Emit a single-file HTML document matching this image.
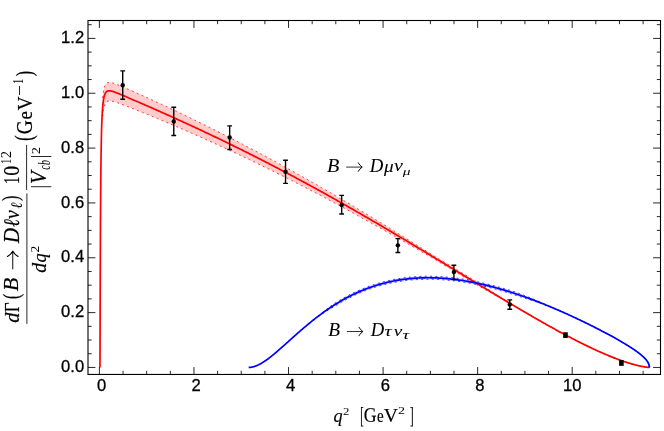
<!DOCTYPE html>
<html><head><meta charset="utf-8"><style>
html,body{margin:0;padding:0;background:#fff;}
body{width:664px;height:431px;overflow:hidden;position:relative;font-family:"Liberation Sans",sans-serif;}
svg{position:absolute;left:0;top:0;will-change:transform;}
.tk{font-family:"Liberation Sans",sans-serif;font-size:16.6px;fill:#000;stroke:#000;stroke-width:0.3px;}
.m{font-family:"Liberation Serif",serif;font-style:italic;fill:#000;stroke:#000;}
.r{font-family:"Liberation Serif",serif;font-style:normal;fill:#000;stroke:#000;}
</style></head><body>
<svg width="664" height="431" viewBox="0 0 664 431">
<path d="M102.62,97.88 L103.99,88.34 L105.36,84.71 L106.73,83.17 L108.10,82.56 L109.47,82.43 L110.84,82.56 L112.21,82.86 L113.58,83.26 L114.95,83.72 L116.32,84.22 L117.69,84.75 L119.06,85.30 L120.43,85.87 L121.80,86.44 L123.17,87.03 L124.54,87.62 L125.91,88.21 L127.28,88.81 L128.65,89.41 L130.02,90.02 L131.39,90.62 L132.76,91.23 L134.13,91.84 L135.50,92.45 L136.87,93.07 L138.25,93.68 L139.62,94.30 L140.99,94.92 L142.36,95.54 L143.73,96.16 L145.10,96.78 L146.47,97.40 L147.84,98.03 L149.21,98.65 L150.58,99.28 L151.95,99.91 L153.32,100.54 L154.69,101.17 L156.06,101.80 L157.43,102.44 L158.80,103.07 L160.17,103.71 L161.54,104.34 L162.91,104.98 L164.28,105.62 L165.65,106.26 L167.02,106.90 L168.39,107.55 L169.76,108.19 L171.13,108.84 L172.51,109.48 L173.88,110.13 L175.25,110.78 L176.62,111.43 L177.99,112.08 L179.36,112.74 L180.73,113.39 L182.10,114.05 L183.47,114.70 L184.84,115.36 L186.21,116.02 L187.58,116.68 L188.95,117.34 L190.32,118.01 L191.69,118.67 L193.06,119.34 L194.43,120.00 L195.80,120.67 L197.17,121.34 L198.54,122.01 L199.91,122.69 L201.28,123.36 L202.65,124.03 L204.02,124.71 L205.39,125.39 L206.76,126.07 L208.14,126.75 L209.51,127.43 L210.88,128.11 L212.25,128.80 L213.62,129.48 L214.99,130.17 L216.36,130.86 L217.73,131.55 L219.10,132.24 L220.47,132.93 L221.84,133.62 L223.21,134.32 L224.58,135.01 L225.95,135.71 L227.32,136.41 L228.69,137.11 L230.06,137.81 L231.43,138.51 L232.80,139.22 L234.17,139.92 L235.54,140.63 L236.91,141.34 L238.28,142.05 L239.65,142.76 L241.02,143.47 L242.40,144.18 L243.77,144.90 L245.14,145.61 L246.51,146.33 L247.88,147.05 L249.25,147.77 L250.62,148.49 L251.99,149.21 L253.36,149.94 L254.73,150.66 L256.10,151.39 L257.47,152.12 L258.84,152.85 L260.21,153.58 L261.58,154.31 L262.95,155.05 L264.32,155.78 L265.69,156.52 L267.06,157.25 L268.43,157.99 L269.80,158.73 L271.17,159.48 L272.54,160.22 L273.91,160.96 L275.28,161.71 L276.66,162.45 L278.03,163.20 L279.40,163.95 L280.77,164.70 L282.14,165.46 L283.51,166.21 L284.88,166.96 L286.25,167.72 L287.62,168.48 L288.99,169.24 L290.36,170.00 L291.73,170.76 L293.10,171.52 L294.47,172.28 L295.84,173.05 L297.21,173.82 L298.58,174.58 L299.95,175.35 L301.32,176.12 L302.69,176.89 L304.06,177.67 L305.43,178.44 L306.80,179.22 L308.17,179.99 L309.54,180.77 L310.91,181.55 L312.29,182.33 L313.66,183.11 L315.03,183.90 L316.40,184.68 L317.77,185.47 L319.14,186.25 L320.51,187.04 L321.88,187.83 L323.25,188.62 L324.62,189.41 L325.99,190.20 L327.36,191.00 L328.73,191.79 L330.10,192.59 L331.47,193.39 L332.84,194.19 L334.21,194.99 L335.58,195.79 L336.95,196.59 L338.32,197.39 L339.69,198.20 L341.06,199.00 L342.43,199.81 L343.80,200.62 L345.17,201.43 L346.55,202.24 L347.92,203.05 L349.29,203.86 L350.66,204.68 L352.03,205.49 L353.40,206.31 L354.77,207.12 L356.14,207.94 L357.51,208.76 L358.88,209.58 L360.25,210.40 L361.62,211.22 L362.99,212.05 L364.36,212.87 L365.73,213.70 L367.10,214.52 L368.47,215.35 L369.84,216.18 L371.21,217.01 L372.58,217.84 L373.95,218.67 L375.32,219.50 L376.69,220.34 L378.06,221.17 L379.43,222.01 L380.81,222.84 L382.18,223.68 L383.55,224.52 L384.92,225.35 L386.29,226.19 L387.66,227.03 L389.03,227.88 L390.40,228.72 L391.77,229.56 L393.14,230.41 L394.51,231.25 L395.88,232.10 L397.25,232.94 L398.62,233.79 L399.99,234.64 L401.36,235.49 L402.73,236.34 L404.10,237.19 L405.47,238.04 L406.84,238.89 L408.21,239.74 L409.58,240.59 L410.95,241.45 L412.32,242.30 L413.69,243.16 L415.06,244.01 L416.44,244.87 L417.81,245.72 L419.18,246.58 L420.55,247.44 L421.92,248.30 L423.29,249.16 L424.66,250.02 L426.03,250.88 L427.40,251.74 L428.77,252.60 L430.14,253.46 L431.51,254.32 L432.88,255.18 L434.25,256.04 L435.62,256.87 L436.99,257.70 L438.36,258.53 L439.73,259.37 L441.10,260.20 L442.47,261.03 L443.84,261.86 L445.21,262.69 L446.58,263.53 L447.95,264.36 L449.32,265.19 L450.70,266.03 L452.07,266.86 L453.44,267.69 L454.81,268.53 L456.18,269.36 L457.55,270.19 L458.92,271.03 L460.29,271.86 L461.66,272.70 L463.03,273.53 L464.40,274.36 L465.77,275.20 L467.14,276.03 L468.51,276.86 L469.88,277.70 L471.25,278.53 L472.62,279.36 L473.99,280.19 L475.36,281.03 L476.73,281.86 L478.10,282.71 L479.47,283.61 L480.84,284.50 L482.21,285.39 L483.58,286.28 L484.96,287.18 L486.33,288.07 L487.70,288.96 L489.07,289.85 L490.44,290.74 L491.81,291.63 L493.18,292.52 L494.55,293.40 L495.92,294.29 L497.29,295.18 L498.66,296.06 L500.03,296.95 L501.40,297.83 L502.77,298.71 L504.14,299.60 L505.51,300.48 L506.88,301.36 L508.25,302.24 L509.62,303.11 L510.99,303.98 L512.36,304.79 L513.73,305.61 L515.10,306.42 L516.47,307.23 L517.84,308.04 L519.21,308.84 L520.59,309.65 L521.96,310.45 L523.33,311.26 L524.70,312.06 L526.07,312.86 L527.44,313.66 L528.81,314.45 L530.18,315.25 L531.55,316.04 L532.92,316.83 L534.29,317.62 L535.66,318.41 L537.03,319.19 L538.40,319.98 L539.77,320.76 L541.14,321.54 L542.51,322.31 L543.88,323.09 L545.25,323.86 L546.62,324.63 L547.99,325.40 L549.36,326.16 L550.73,326.93 L552.10,327.69 L553.47,328.44 L554.85,329.20 L556.22,329.95 L557.59,330.70 L558.96,331.44 L560.33,332.18 L561.70,332.92 L563.07,333.66 L564.44,334.39 L565.81,335.12 L567.18,335.85 L568.55,336.57 L569.92,337.29 L571.29,338.00 L572.66,338.72 L574.03,339.42 L575.40,340.13 L576.77,340.83 L578.14,341.52 L579.51,342.21 L580.88,342.90 L582.25,343.58 L583.62,344.26 L584.99,344.93 L586.36,345.60 L587.73,346.26 L589.10,346.92 L590.48,347.57 L591.85,348.22 L593.22,348.86 L594.59,349.50 L595.96,350.13 L597.33,350.75 L598.70,351.37 L600.07,351.98 L601.44,352.59 L602.81,353.19 L604.18,353.78 L605.55,354.37 L606.92,354.95 L608.29,355.52 L609.66,356.08 L611.03,356.64 L612.40,357.19 L613.77,357.73 L615.14,358.26 L616.51,358.78 L617.88,359.30 L619.25,359.80 L620.62,360.30 L621.99,360.78 L623.36,361.26 L624.74,361.72 L626.11,362.17 L627.48,362.62 L628.85,363.05 L630.22,363.46 L631.59,363.87 L632.96,364.26 L634.33,364.64 L635.70,365.00 L637.07,365.34 L638.44,365.67 L639.81,365.98 L641.18,366.27 L642.55,366.54 L643.92,366.78 L645.29,367.00 L646.66,367.19 L648.03,367.34 L649.40,367.45 L649.40,367.45 L648.03,367.34 L646.66,367.19 L645.29,367.00 L643.92,366.78 L642.55,366.54 L641.18,366.27 L639.81,365.98 L638.44,365.67 L637.07,365.34 L635.70,365.00 L634.33,364.64 L632.96,364.26 L631.59,363.87 L630.22,363.46 L628.85,363.05 L627.48,362.62 L626.11,362.17 L624.74,361.72 L623.36,361.26 L621.99,360.78 L620.62,360.30 L619.25,359.80 L617.88,359.30 L616.51,358.78 L615.14,358.26 L613.77,357.73 L612.40,357.19 L611.03,356.64 L609.66,356.08 L608.29,355.52 L606.92,354.95 L605.55,354.37 L604.18,353.78 L602.81,353.19 L601.44,352.59 L600.07,351.98 L598.70,351.37 L597.33,350.75 L595.96,350.13 L594.59,349.50 L593.22,348.86 L591.85,348.22 L590.48,347.57 L589.10,346.92 L587.73,346.26 L586.36,345.60 L584.99,344.93 L583.62,344.26 L582.25,343.58 L580.88,342.90 L579.51,342.21 L578.14,341.52 L576.77,340.83 L575.40,340.13 L574.03,339.42 L572.66,338.72 L571.29,338.00 L569.92,337.29 L568.55,336.57 L567.18,335.85 L565.81,335.12 L564.44,334.39 L563.07,333.66 L561.70,332.92 L560.33,332.18 L558.96,331.44 L557.59,330.70 L556.22,329.95 L554.85,329.20 L553.47,328.44 L552.10,327.69 L550.73,326.93 L549.36,326.16 L547.99,325.40 L546.62,324.63 L545.25,323.86 L543.88,323.09 L542.51,322.31 L541.14,321.54 L539.77,320.76 L538.40,319.98 L537.03,319.19 L535.66,318.41 L534.29,317.62 L532.92,316.83 L531.55,316.04 L530.18,315.25 L528.81,314.45 L527.44,313.66 L526.07,312.86 L524.70,312.06 L523.33,311.26 L521.96,310.45 L520.59,309.65 L519.21,308.84 L517.84,308.04 L516.47,307.23 L515.10,306.42 L513.73,305.61 L512.36,304.79 L510.99,303.98 L509.62,303.22 L508.25,302.46 L506.88,301.71 L505.51,300.95 L504.14,300.19 L502.77,299.44 L501.40,298.68 L500.03,297.92 L498.66,297.16 L497.29,296.40 L495.92,295.63 L494.55,294.87 L493.18,294.11 L491.81,293.34 L490.44,292.58 L489.07,291.81 L487.70,291.05 L486.33,290.28 L484.96,289.51 L483.58,288.75 L482.21,287.98 L480.84,287.21 L479.47,286.44 L478.10,285.67 L476.73,284.86 L475.36,284.03 L473.99,283.19 L472.62,282.36 L471.25,281.53 L469.88,280.70 L468.51,279.86 L467.14,279.03 L465.77,278.20 L464.40,277.36 L463.03,276.53 L461.66,275.70 L460.29,274.86 L458.92,274.03 L457.55,273.19 L456.18,272.36 L454.81,271.53 L453.44,270.69 L452.07,269.86 L450.70,269.03 L449.32,268.19 L447.95,267.36 L446.58,266.53 L445.21,265.69 L443.84,264.86 L442.47,264.03 L441.10,263.20 L439.73,262.37 L438.36,261.53 L436.99,260.70 L435.62,259.87 L434.25,259.04 L432.88,258.24 L431.51,257.45 L430.14,256.65 L428.77,255.85 L427.40,255.06 L426.03,254.26 L424.66,253.47 L423.29,252.67 L421.92,251.88 L420.55,251.09 L419.18,250.29 L417.81,249.50 L416.44,248.71 L415.06,247.92 L413.69,247.13 L412.32,246.34 L410.95,245.55 L409.58,244.76 L408.21,243.97 L406.84,243.19 L405.47,242.40 L404.10,241.61 L402.73,240.83 L401.36,240.05 L399.99,239.26 L398.62,238.48 L397.25,237.70 L395.88,236.92 L394.51,236.14 L393.14,235.36 L391.77,234.58 L390.40,233.80 L389.03,233.02 L387.66,232.25 L386.29,231.47 L384.92,230.70 L383.55,229.92 L382.18,229.15 L380.81,228.38 L379.43,227.61 L378.06,226.84 L376.69,226.07 L375.32,225.30 L373.95,224.53 L372.58,223.77 L371.21,223.00 L369.84,222.24 L368.47,221.47 L367.10,220.71 L365.73,219.95 L364.36,219.19 L362.99,218.43 L361.62,217.67 L360.25,216.92 L358.88,216.16 L357.51,215.41 L356.14,214.65 L354.77,213.90 L353.40,213.15 L352.03,212.40 L350.66,211.65 L349.29,210.90 L347.92,210.15 L346.55,209.40 L345.17,208.66 L343.80,207.92 L342.43,207.17 L341.06,206.43 L339.69,205.69 L338.32,204.95 L336.95,204.21 L335.58,203.47 L334.21,202.74 L332.84,202.00 L331.47,201.27 L330.10,200.54 L328.73,199.81 L327.36,199.08 L325.99,198.35 L324.62,197.62 L323.25,196.89 L321.88,196.17 L320.51,195.44 L319.14,194.72 L317.77,194.00 L316.40,193.28 L315.03,192.56 L313.66,191.84 L312.29,191.13 L310.91,190.41 L309.54,189.70 L308.17,188.98 L306.80,188.27 L305.43,187.56 L304.06,186.85 L302.69,186.15 L301.32,185.44 L299.95,184.73 L298.58,184.03 L297.21,183.33 L295.84,182.63 L294.47,181.93 L293.10,181.23 L291.73,180.53 L290.36,179.83 L288.99,179.14 L287.62,178.45 L286.25,177.75 L284.88,177.06 L283.51,176.37 L282.14,175.69 L280.77,175.00 L279.40,174.31 L278.03,173.63 L276.66,172.95 L275.28,172.26 L273.91,171.58 L272.54,170.90 L271.17,170.23 L269.80,169.55 L268.43,168.87 L267.06,168.20 L265.69,167.53 L264.32,166.86 L262.95,166.19 L261.58,165.52 L260.21,164.85 L258.84,164.19 L257.47,163.52 L256.10,162.86 L254.73,162.20 L253.36,161.54 L251.99,160.88 L250.62,160.22 L249.25,159.56 L247.88,158.91 L246.51,158.26 L245.14,157.60 L243.77,156.95 L242.40,156.30 L241.02,155.65 L239.65,155.01 L238.28,154.36 L236.91,153.72 L235.54,153.07 L234.17,152.43 L232.80,151.79 L231.43,151.15 L230.06,150.52 L228.69,149.88 L227.32,149.24 L225.95,148.61 L224.58,147.98 L223.21,147.35 L221.84,146.72 L220.47,146.09 L219.10,145.46 L217.73,144.84 L216.36,144.21 L214.99,143.59 L213.62,142.97 L212.25,142.35 L210.88,141.73 L209.51,141.11 L208.14,140.50 L206.76,139.88 L205.39,139.27 L204.02,138.65 L202.65,138.04 L201.28,137.43 L199.91,136.83 L198.54,136.22 L197.17,135.61 L195.80,135.01 L194.43,134.40 L193.06,133.80 L191.69,133.20 L190.32,132.60 L188.95,132.00 L187.58,131.41 L186.21,130.81 L184.84,130.22 L183.47,129.63 L182.10,129.03 L180.73,128.44 L179.36,127.85 L177.99,127.27 L176.62,126.68 L175.25,126.09 L173.88,125.51 L172.51,124.93 L171.13,124.35 L169.76,123.76 L168.39,123.19 L167.02,122.61 L165.65,122.03 L164.28,121.46 L162.91,120.88 L161.54,120.31 L160.17,119.74 L158.80,119.17 L157.43,118.60 L156.06,118.03 L154.69,117.46 L153.32,116.90 L151.95,116.33 L150.58,115.77 L149.21,115.21 L147.84,114.65 L146.47,114.09 L145.10,113.53 L143.73,112.97 L142.36,112.41 L140.99,111.86 L139.62,111.31 L138.25,110.76 L136.87,110.20 L135.50,109.66 L134.13,109.11 L132.76,108.56 L131.39,108.02 L130.02,107.48 L128.65,106.94 L127.28,106.40 L125.91,105.87 L124.54,105.34 L123.17,104.82 L121.80,104.30 L120.43,103.79 L119.06,103.29 L117.69,102.80 L116.32,102.34 L114.95,101.90 L113.58,101.50 L112.21,101.17 L110.84,100.94 L109.47,100.87 L108.10,101.06 L106.73,101.74 L105.36,103.35 L103.99,107.05 L102.62,116.62Z" fill="#ffcccc" stroke="none"/>
<path d="M102.62,97.88 L103.99,88.34 L105.36,84.71 L106.73,83.17 L108.10,82.56 L109.47,82.43 L110.84,82.56 L112.21,82.86 L113.58,83.26 L114.95,83.72 L116.32,84.22 L117.69,84.75 L119.06,85.30 L120.43,85.87 L121.80,86.44 L123.17,87.03 L124.54,87.62 L125.91,88.21 L127.28,88.81 L128.65,89.41 L130.02,90.02 L131.39,90.62 L132.76,91.23 L134.13,91.84 L135.50,92.45 L136.87,93.07 L138.25,93.68 L139.62,94.30 L140.99,94.92 L142.36,95.54 L143.73,96.16 L145.10,96.78 L146.47,97.40 L147.84,98.03 L149.21,98.65 L150.58,99.28 L151.95,99.91 L153.32,100.54 L154.69,101.17 L156.06,101.80 L157.43,102.44 L158.80,103.07 L160.17,103.71 L161.54,104.34 L162.91,104.98 L164.28,105.62 L165.65,106.26 L167.02,106.90 L168.39,107.55 L169.76,108.19 L171.13,108.84 L172.51,109.48 L173.88,110.13 L175.25,110.78 L176.62,111.43 L177.99,112.08 L179.36,112.74 L180.73,113.39 L182.10,114.05 L183.47,114.70 L184.84,115.36 L186.21,116.02 L187.58,116.68 L188.95,117.34 L190.32,118.01 L191.69,118.67 L193.06,119.34 L194.43,120.00 L195.80,120.67 L197.17,121.34 L198.54,122.01 L199.91,122.69 L201.28,123.36 L202.65,124.03 L204.02,124.71 L205.39,125.39 L206.76,126.07 L208.14,126.75 L209.51,127.43 L210.88,128.11 L212.25,128.80 L213.62,129.48 L214.99,130.17 L216.36,130.86 L217.73,131.55 L219.10,132.24 L220.47,132.93 L221.84,133.62 L223.21,134.32 L224.58,135.01 L225.95,135.71 L227.32,136.41 L228.69,137.11 L230.06,137.81 L231.43,138.51 L232.80,139.22 L234.17,139.92 L235.54,140.63 L236.91,141.34 L238.28,142.05 L239.65,142.76 L241.02,143.47 L242.40,144.18 L243.77,144.90 L245.14,145.61 L246.51,146.33 L247.88,147.05 L249.25,147.77 L250.62,148.49 L251.99,149.21 L253.36,149.94 L254.73,150.66 L256.10,151.39 L257.47,152.12 L258.84,152.85 L260.21,153.58 L261.58,154.31 L262.95,155.05 L264.32,155.78 L265.69,156.52 L267.06,157.25 L268.43,157.99 L269.80,158.73 L271.17,159.48 L272.54,160.22 L273.91,160.96 L275.28,161.71 L276.66,162.45 L278.03,163.20 L279.40,163.95 L280.77,164.70 L282.14,165.46 L283.51,166.21 L284.88,166.96 L286.25,167.72 L287.62,168.48 L288.99,169.24 L290.36,170.00 L291.73,170.76 L293.10,171.52 L294.47,172.28 L295.84,173.05 L297.21,173.82 L298.58,174.58 L299.95,175.35 L301.32,176.12 L302.69,176.89 L304.06,177.67 L305.43,178.44 L306.80,179.22 L308.17,179.99 L309.54,180.77 L310.91,181.55 L312.29,182.33 L313.66,183.11 L315.03,183.90 L316.40,184.68 L317.77,185.47 L319.14,186.25 L320.51,187.04 L321.88,187.83 L323.25,188.62 L324.62,189.41 L325.99,190.20 L327.36,191.00 L328.73,191.79 L330.10,192.59 L331.47,193.39 L332.84,194.19 L334.21,194.99 L335.58,195.79 L336.95,196.59 L338.32,197.39 L339.69,198.20 L341.06,199.00 L342.43,199.81 L343.80,200.62 L345.17,201.43 L346.55,202.24 L347.92,203.05 L349.29,203.86 L350.66,204.68 L352.03,205.49 L353.40,206.31 L354.77,207.12 L356.14,207.94 L357.51,208.76 L358.88,209.58 L360.25,210.40 L361.62,211.22 L362.99,212.05 L364.36,212.87 L365.73,213.70 L367.10,214.52 L368.47,215.35 L369.84,216.18 L371.21,217.01 L372.58,217.84 L373.95,218.67 L375.32,219.50 L376.69,220.34 L378.06,221.17 L379.43,222.01 L380.81,222.84 L382.18,223.68 L383.55,224.52 L384.92,225.35 L386.29,226.19 L387.66,227.03 L389.03,227.88 L390.40,228.72 L391.77,229.56 L393.14,230.41 L394.51,231.25 L395.88,232.10 L397.25,232.94 L398.62,233.79 L399.99,234.64 L401.36,235.49 L402.73,236.34 L404.10,237.19 L405.47,238.04 L406.84,238.89 L408.21,239.74 L409.58,240.59 L410.95,241.45 L412.32,242.30 L413.69,243.16 L415.06,244.01 L416.44,244.87 L417.81,245.72 L419.18,246.58 L420.55,247.44 L421.92,248.30 L423.29,249.16 L424.66,250.02 L426.03,250.88 L427.40,251.74 L428.77,252.60 L430.14,253.46 L431.51,254.32 L432.88,255.18 L434.25,256.04 L435.62,256.87 L436.99,257.70 L438.36,258.53 L439.73,259.37 L441.10,260.20 L442.47,261.03 L443.84,261.86 L445.21,262.69 L446.58,263.53 L447.95,264.36 L449.32,265.19 L450.70,266.03 L452.07,266.86 L453.44,267.69 L454.81,268.53 L456.18,269.36 L457.55,270.19 L458.92,271.03 L460.29,271.86 L461.66,272.70 L463.03,273.53 L464.40,274.36 L465.77,275.20 L467.14,276.03 L468.51,276.86 L469.88,277.70 L471.25,278.53 L472.62,279.36 L473.99,280.19 L475.36,281.03 L476.73,281.86 L478.10,282.71 L479.47,283.61 L480.84,284.50 L482.21,285.39 L483.58,286.28 L484.96,287.18 L486.33,288.07 L487.70,288.96 L489.07,289.85 L490.44,290.74 L491.81,291.63 L493.18,292.52 L494.55,293.40 L495.92,294.29 L497.29,295.18 L498.66,296.06 L500.03,296.95 L501.40,297.83 L502.77,298.71 L504.14,299.60 L505.51,300.48 L506.88,301.36 L508.25,302.24 L509.62,303.11 L510.99,303.98 L512.36,304.79 L513.73,305.61 L515.10,306.42 L516.47,307.23 L517.84,308.04 L519.21,308.84 L520.59,309.65 L521.96,310.45 L523.33,311.26 L524.70,312.06 L526.07,312.86 L527.44,313.66 L528.81,314.45 L530.18,315.25 L531.55,316.04 L532.92,316.83 L534.29,317.62 L535.66,318.41 L537.03,319.19 L538.40,319.98 L539.77,320.76 L541.14,321.54 L542.51,322.31 L543.88,323.09 L545.25,323.86 L546.62,324.63 L547.99,325.40 L549.36,326.16 L550.73,326.93 L552.10,327.69 L553.47,328.44 L554.85,329.20 L556.22,329.95 L557.59,330.70 L558.96,331.44 L560.33,332.18 L561.70,332.92 L563.07,333.66 L564.44,334.39 L565.81,335.12 L567.18,335.85 L568.55,336.57 L569.92,337.29 L571.29,338.00 L572.66,338.72 L574.03,339.42 L575.40,340.13 L576.77,340.83 L578.14,341.52 L579.51,342.21 L580.88,342.90 L582.25,343.58 L583.62,344.26 L584.99,344.93 L586.36,345.60 L587.73,346.26 L589.10,346.92 L590.48,347.57 L591.85,348.22 L593.22,348.86 L594.59,349.50 L595.96,350.13 L597.33,350.75 L598.70,351.37 L600.07,351.98 L601.44,352.59 L602.81,353.19 L604.18,353.78 L605.55,354.37 L606.92,354.95 L608.29,355.52 L609.66,356.08 L611.03,356.64 L612.40,357.19 L613.77,357.73 L615.14,358.26 L616.51,358.78 L617.88,359.30 L619.25,359.80 L620.62,360.30 L621.99,360.78 L623.36,361.26 L624.74,361.72 L626.11,362.17 L627.48,362.62 L628.85,363.05 L630.22,363.46 L631.59,363.87 L632.96,364.26 L634.33,364.64 L635.70,365.00 L637.07,365.34 L638.44,365.67 L639.81,365.98 L641.18,366.27 L642.55,366.54 L643.92,366.78 L645.29,367.00 L646.66,367.19 L648.03,367.34 L649.40,367.45" fill="none" stroke="#ff2020" stroke-width="0.9" stroke-dasharray="2,3.3"/>
<path d="M102.62,116.62 L103.99,107.05 L105.36,103.35 L106.73,101.74 L108.10,101.06 L109.47,100.87 L110.84,100.94 L112.21,101.17 L113.58,101.50 L114.95,101.90 L116.32,102.34 L117.69,102.80 L119.06,103.29 L120.43,103.79 L121.80,104.30 L123.17,104.82 L124.54,105.34 L125.91,105.87 L127.28,106.40 L128.65,106.94 L130.02,107.48 L131.39,108.02 L132.76,108.56 L134.13,109.11 L135.50,109.66 L136.87,110.20 L138.25,110.76 L139.62,111.31 L140.99,111.86 L142.36,112.41 L143.73,112.97 L145.10,113.53 L146.47,114.09 L147.84,114.65 L149.21,115.21 L150.58,115.77 L151.95,116.33 L153.32,116.90 L154.69,117.46 L156.06,118.03 L157.43,118.60 L158.80,119.17 L160.17,119.74 L161.54,120.31 L162.91,120.88 L164.28,121.46 L165.65,122.03 L167.02,122.61 L168.39,123.19 L169.76,123.76 L171.13,124.35 L172.51,124.93 L173.88,125.51 L175.25,126.09 L176.62,126.68 L177.99,127.27 L179.36,127.85 L180.73,128.44 L182.10,129.03 L183.47,129.63 L184.84,130.22 L186.21,130.81 L187.58,131.41 L188.95,132.00 L190.32,132.60 L191.69,133.20 L193.06,133.80 L194.43,134.40 L195.80,135.01 L197.17,135.61 L198.54,136.22 L199.91,136.83 L201.28,137.43 L202.65,138.04 L204.02,138.65 L205.39,139.27 L206.76,139.88 L208.14,140.50 L209.51,141.11 L210.88,141.73 L212.25,142.35 L213.62,142.97 L214.99,143.59 L216.36,144.21 L217.73,144.84 L219.10,145.46 L220.47,146.09 L221.84,146.72 L223.21,147.35 L224.58,147.98 L225.95,148.61 L227.32,149.24 L228.69,149.88 L230.06,150.52 L231.43,151.15 L232.80,151.79 L234.17,152.43 L235.54,153.07 L236.91,153.72 L238.28,154.36 L239.65,155.01 L241.02,155.65 L242.40,156.30 L243.77,156.95 L245.14,157.60 L246.51,158.26 L247.88,158.91 L249.25,159.56 L250.62,160.22 L251.99,160.88 L253.36,161.54 L254.73,162.20 L256.10,162.86 L257.47,163.52 L258.84,164.19 L260.21,164.85 L261.58,165.52 L262.95,166.19 L264.32,166.86 L265.69,167.53 L267.06,168.20 L268.43,168.87 L269.80,169.55 L271.17,170.23 L272.54,170.90 L273.91,171.58 L275.28,172.26 L276.66,172.95 L278.03,173.63 L279.40,174.31 L280.77,175.00 L282.14,175.69 L283.51,176.37 L284.88,177.06 L286.25,177.75 L287.62,178.45 L288.99,179.14 L290.36,179.83 L291.73,180.53 L293.10,181.23 L294.47,181.93 L295.84,182.63 L297.21,183.33 L298.58,184.03 L299.95,184.73 L301.32,185.44 L302.69,186.15 L304.06,186.85 L305.43,187.56 L306.80,188.27 L308.17,188.98 L309.54,189.70 L310.91,190.41 L312.29,191.13 L313.66,191.84 L315.03,192.56 L316.40,193.28 L317.77,194.00 L319.14,194.72 L320.51,195.44 L321.88,196.17 L323.25,196.89 L324.62,197.62 L325.99,198.35 L327.36,199.08 L328.73,199.81 L330.10,200.54 L331.47,201.27 L332.84,202.00 L334.21,202.74 L335.58,203.47 L336.95,204.21 L338.32,204.95 L339.69,205.69 L341.06,206.43 L342.43,207.17 L343.80,207.92 L345.17,208.66 L346.55,209.40 L347.92,210.15 L349.29,210.90 L350.66,211.65 L352.03,212.40 L353.40,213.15 L354.77,213.90 L356.14,214.65 L357.51,215.41 L358.88,216.16 L360.25,216.92 L361.62,217.67 L362.99,218.43 L364.36,219.19 L365.73,219.95 L367.10,220.71 L368.47,221.47 L369.84,222.24 L371.21,223.00 L372.58,223.77 L373.95,224.53 L375.32,225.30 L376.69,226.07 L378.06,226.84 L379.43,227.61 L380.81,228.38 L382.18,229.15 L383.55,229.92 L384.92,230.70 L386.29,231.47 L387.66,232.25 L389.03,233.02 L390.40,233.80 L391.77,234.58 L393.14,235.36 L394.51,236.14 L395.88,236.92 L397.25,237.70 L398.62,238.48 L399.99,239.26 L401.36,240.05 L402.73,240.83 L404.10,241.61 L405.47,242.40 L406.84,243.19 L408.21,243.97 L409.58,244.76 L410.95,245.55 L412.32,246.34 L413.69,247.13 L415.06,247.92 L416.44,248.71 L417.81,249.50 L419.18,250.29 L420.55,251.09 L421.92,251.88 L423.29,252.67 L424.66,253.47 L426.03,254.26 L427.40,255.06 L428.77,255.85 L430.14,256.65 L431.51,257.45 L432.88,258.24 L434.25,259.04 L435.62,259.87 L436.99,260.70 L438.36,261.53 L439.73,262.37 L441.10,263.20 L442.47,264.03 L443.84,264.86 L445.21,265.69 L446.58,266.53 L447.95,267.36 L449.32,268.19 L450.70,269.03 L452.07,269.86 L453.44,270.69 L454.81,271.53 L456.18,272.36 L457.55,273.19 L458.92,274.03 L460.29,274.86 L461.66,275.70 L463.03,276.53 L464.40,277.36 L465.77,278.20 L467.14,279.03 L468.51,279.86 L469.88,280.70 L471.25,281.53 L472.62,282.36 L473.99,283.19 L475.36,284.03 L476.73,284.86 L478.10,285.67 L479.47,286.44 L480.84,287.21 L482.21,287.98 L483.58,288.75 L484.96,289.51 L486.33,290.28 L487.70,291.05 L489.07,291.81 L490.44,292.58 L491.81,293.34 L493.18,294.11 L494.55,294.87 L495.92,295.63 L497.29,296.40 L498.66,297.16 L500.03,297.92 L501.40,298.68 L502.77,299.44 L504.14,300.19 L505.51,300.95 L506.88,301.71 L508.25,302.46 L509.62,303.22 L510.99,303.98 L512.36,304.79 L513.73,305.61 L515.10,306.42 L516.47,307.23 L517.84,308.04 L519.21,308.84 L520.59,309.65 L521.96,310.45 L523.33,311.26 L524.70,312.06 L526.07,312.86 L527.44,313.66 L528.81,314.45 L530.18,315.25 L531.55,316.04 L532.92,316.83 L534.29,317.62 L535.66,318.41 L537.03,319.19 L538.40,319.98 L539.77,320.76 L541.14,321.54 L542.51,322.31 L543.88,323.09 L545.25,323.86 L546.62,324.63 L547.99,325.40 L549.36,326.16 L550.73,326.93 L552.10,327.69 L553.47,328.44 L554.85,329.20 L556.22,329.95 L557.59,330.70 L558.96,331.44 L560.33,332.18 L561.70,332.92 L563.07,333.66 L564.44,334.39 L565.81,335.12 L567.18,335.85 L568.55,336.57 L569.92,337.29 L571.29,338.00 L572.66,338.72 L574.03,339.42 L575.40,340.13 L576.77,340.83 L578.14,341.52 L579.51,342.21 L580.88,342.90 L582.25,343.58 L583.62,344.26 L584.99,344.93 L586.36,345.60 L587.73,346.26 L589.10,346.92 L590.48,347.57 L591.85,348.22 L593.22,348.86 L594.59,349.50 L595.96,350.13 L597.33,350.75 L598.70,351.37 L600.07,351.98 L601.44,352.59 L602.81,353.19 L604.18,353.78 L605.55,354.37 L606.92,354.95 L608.29,355.52 L609.66,356.08 L611.03,356.64 L612.40,357.19 L613.77,357.73 L615.14,358.26 L616.51,358.78 L617.88,359.30 L619.25,359.80 L620.62,360.30 L621.99,360.78 L623.36,361.26 L624.74,361.72 L626.11,362.17 L627.48,362.62 L628.85,363.05 L630.22,363.46 L631.59,363.87 L632.96,364.26 L634.33,364.64 L635.70,365.00 L637.07,365.34 L638.44,365.67 L639.81,365.98 L641.18,366.27 L642.55,366.54 L643.92,366.78 L645.29,367.00 L646.66,367.19 L648.03,367.34 L649.40,367.45" fill="none" stroke="#ff2020" stroke-width="0.9" stroke-dasharray="2,3.3"/>
<path d="M265.22,360.83 L266.51,359.93 L267.79,359.00 L269.08,358.04 L270.36,357.05 L271.65,356.03 L272.93,354.99 L274.22,353.94 L275.50,352.86 L276.79,351.77 L278.07,350.66 L279.36,349.55 L280.64,348.42 L281.93,347.29 L283.21,346.15 L284.50,345.00 L285.78,343.85 L287.06,342.70 L288.35,341.54 L289.63,340.39 L290.92,339.23 L292.20,338.08 L293.49,336.93 L294.77,335.79 L296.06,334.65 L297.34,333.51 L298.63,332.38 L299.91,331.26 L301.20,330.14 L302.48,329.03 L303.77,327.93 L305.05,326.84 L306.34,325.76 L307.62,324.68 L308.91,323.62 L310.19,322.57 L311.48,321.53 L312.76,320.46 L314.05,319.36 L315.33,318.27 L316.62,317.19 L317.90,316.12 L319.19,315.07 L320.47,314.03 L321.76,313.00 L323.04,311.98 L324.33,310.98 L325.61,309.98 L326.90,309.01 L328.18,308.04 L329.47,307.09 L330.75,306.15 L332.04,305.22 L333.32,304.31 L334.61,303.41 L335.89,302.53 L337.18,301.74 L338.46,300.96 L339.75,300.20 L341.03,299.44 L342.31,298.71 L343.60,297.98 L344.88,297.27 L346.17,296.57 L347.45,295.89 L348.74,295.21 L350.02,294.55 L351.31,293.91 L352.59,293.28 L353.88,292.66 L355.16,292.05 L356.45,291.46 L357.73,290.87 L359.02,290.30 L360.30,289.75 L361.59,289.21 L362.87,288.67 L364.16,288.16 L365.44,287.65 L366.73,287.16 L368.01,286.67 L369.30,286.20 L370.58,285.75 L371.87,285.30 L373.15,284.87 L374.44,284.45 L375.72,284.04 L377.01,283.64 L378.29,283.25 L379.58,282.87 L380.86,282.51 L382.15,282.16 L383.43,281.82 L384.72,281.49 L386.00,281.17 L387.29,280.86 L388.57,280.56 L389.86,280.27 L391.14,280.00 L392.43,279.73 L393.71,279.48 L395.00,279.23 L396.28,279.00 L397.56,278.77 L398.85,278.56 L400.13,278.36 L401.42,278.16 L402.70,277.98 L403.99,277.80 L405.27,277.64 L406.56,277.49 L407.84,277.34 L409.13,277.21 L410.41,277.08 L411.70,276.96 L412.98,276.86 L414.27,276.76 L415.55,276.67 L416.84,276.59 L418.12,276.52 L419.41,276.46 L420.69,276.40 L421.98,276.36 L423.26,276.32 L424.55,276.29 L425.83,276.28 L427.12,276.27 L428.40,276.26 L429.69,276.27 L430.97,276.28 L432.26,276.31 L433.54,276.34 L434.83,276.38 L436.11,276.42 L437.40,276.48 L438.68,276.54 L439.97,276.61 L441.25,276.69 L442.54,276.77 L443.82,276.87 L445.11,276.97 L446.39,277.07 L447.68,277.19 L448.96,277.31 L450.25,277.44 L451.53,277.58 L452.82,277.72 L454.10,277.87 L455.38,278.03 L456.67,278.19 L457.95,278.36 L459.24,278.54 L460.52,278.73 L461.81,278.92 L463.09,279.12 L464.38,279.32 L465.66,279.53 L466.95,279.75 L468.23,279.97 L469.52,280.21 L470.80,280.44 L472.09,280.68 L473.37,280.93 L474.66,281.19 L475.94,281.45 L477.23,281.72 L478.51,281.99 L479.80,282.27 L481.08,282.55 L482.37,282.84 L483.65,283.14 L484.94,283.44 L486.22,283.75 L487.51,284.06 L488.79,284.38 L490.08,284.71 L491.36,285.04 L492.65,285.37 L493.93,285.71 L495.22,286.06 L496.50,286.41 L497.79,286.76 L499.07,287.13 L500.36,287.49 L501.64,287.86 L502.93,288.24 L504.21,288.62 L505.50,289.01 L506.78,289.40 L508.07,289.80 L509.35,290.20 L510.63,290.60 L511.92,291.01 L513.20,291.43 L514.49,291.85 L515.77,292.27 L517.06,292.70 L518.34,293.14 L519.63,293.57 L520.91,294.05 L522.20,294.55 L523.48,295.06 L524.77,295.58 L526.05,296.10 L527.34,296.62 L528.62,297.15 L529.91,297.68 L531.19,298.21 L532.48,298.75 L533.76,299.29 L535.05,299.84 L536.33,300.39 L537.62,300.95 L538.90,301.51 L540.19,302.07 L541.47,302.64 L542.76,303.21 L544.04,303.78 L545.33,304.36 L546.61,304.94 L547.90,305.53 L549.18,306.12 L550.47,306.71 L551.75,307.31 L553.04,307.91 L554.32,308.46 L555.61,309.01 L556.89,309.56 L558.18,310.12 L559.46,310.68 L560.75,311.24 L562.03,311.81 L563.32,312.38 L564.60,312.95 L565.88,313.53 L567.17,314.11 L568.45,314.69 L569.74,315.28 L571.02,315.87 L572.31,316.46 L573.59,317.06 L574.88,317.66 L576.16,318.26 L577.45,318.87 L578.73,319.47 L580.02,320.09 L581.30,320.70 L582.59,321.32 L583.87,321.94 L585.16,322.57 L586.44,323.20 L587.73,323.83 L589.01,324.46 L590.30,325.10 L591.58,325.74 L592.87,326.39 L594.15,327.04 L595.44,327.69 L596.72,328.34 L598.01,329.00 L599.29,329.66 L600.58,330.33 L601.86,331.00 L603.15,331.67 L604.43,332.35 L605.72,333.03 L607.00,333.72 L608.29,334.41 L609.57,335.10 L610.86,335.80 L612.14,336.50 L613.43,337.21 L614.71,337.92 L616.00,338.64 L617.28,339.37 L618.57,340.10 L619.85,340.84 L621.13,341.58 L622.42,342.34 L623.70,343.10 L624.99,343.87 L626.27,344.65 L627.56,345.44 L628.84,346.24 L630.13,347.05 L631.41,347.88 L632.70,348.73 L633.98,349.59 L635.27,350.48 L636.55,351.39 L637.84,352.33 L639.12,353.30 L640.41,354.32 L641.69,355.39 L642.98,356.53 L644.26,357.76 L645.55,359.13 L646.83,360.71 L648.12,362.73 L649.40,367.45 L649.40,367.45 L648.12,362.73 L646.83,360.71 L645.55,359.13 L644.26,357.76 L642.98,356.53 L641.69,355.39 L640.41,354.32 L639.12,353.30 L637.84,352.33 L636.55,351.39 L635.27,350.48 L633.98,349.59 L632.70,348.73 L631.41,347.88 L630.13,347.05 L628.84,346.24 L627.56,345.44 L626.27,344.65 L624.99,343.87 L623.70,343.10 L622.42,342.34 L621.13,341.58 L619.85,340.84 L618.57,340.10 L617.28,339.37 L616.00,338.64 L614.71,337.92 L613.43,337.21 L612.14,336.50 L610.86,335.80 L609.57,335.10 L608.29,334.41 L607.00,333.72 L605.72,333.03 L604.43,332.35 L603.15,331.67 L601.86,331.00 L600.58,330.33 L599.29,329.66 L598.01,329.00 L596.72,328.34 L595.44,327.69 L594.15,327.04 L592.87,326.39 L591.58,325.74 L590.30,325.10 L589.01,324.46 L587.73,323.83 L586.44,323.20 L585.16,322.57 L583.87,321.94 L582.59,321.32 L581.30,320.70 L580.02,320.09 L578.73,319.47 L577.45,318.87 L576.16,318.26 L574.88,317.66 L573.59,317.06 L572.31,316.46 L571.02,315.87 L569.74,315.28 L568.45,314.69 L567.17,314.11 L565.88,313.53 L564.60,312.95 L563.32,312.38 L562.03,311.81 L560.75,311.24 L559.46,310.68 L558.18,310.12 L556.89,309.56 L555.61,309.01 L554.32,308.46 L553.04,307.93 L551.75,307.45 L550.47,306.97 L549.18,306.49 L547.90,306.02 L546.61,305.55 L545.33,305.08 L544.04,304.62 L542.76,304.16 L541.47,303.71 L540.19,303.26 L538.90,302.81 L537.62,302.37 L536.33,301.93 L535.05,301.49 L533.76,301.06 L532.48,300.64 L531.19,300.21 L529.91,299.80 L528.62,299.38 L527.34,298.97 L526.05,298.57 L524.77,298.16 L523.48,297.77 L522.20,297.37 L520.91,296.98 L519.63,296.57 L518.34,296.14 L517.06,295.70 L515.77,295.27 L514.49,294.85 L513.20,294.43 L511.92,294.01 L510.63,293.60 L509.35,293.20 L508.07,292.80 L506.78,292.40 L505.50,292.01 L504.21,291.62 L502.93,291.24 L501.64,290.86 L500.36,290.49 L499.07,290.13 L497.79,289.76 L496.50,289.41 L495.22,289.06 L493.93,288.71 L492.65,288.37 L491.36,288.04 L490.08,287.71 L488.79,287.38 L487.51,287.06 L486.22,286.75 L484.94,286.44 L483.65,286.14 L482.37,285.84 L481.08,285.55 L479.80,285.27 L478.51,284.99 L477.23,284.72 L475.94,284.45 L474.66,284.19 L473.37,283.93 L472.09,283.68 L470.80,283.44 L469.52,283.21 L468.23,282.97 L466.95,282.75 L465.66,282.53 L464.38,282.32 L463.09,282.12 L461.81,281.92 L460.52,281.73 L459.24,281.54 L457.95,281.36 L456.67,281.19 L455.38,281.03 L454.10,280.87 L452.82,280.72 L451.53,280.58 L450.25,280.44 L448.96,280.31 L447.68,280.19 L446.39,280.07 L445.11,279.97 L443.82,279.87 L442.54,279.77 L441.25,279.69 L439.97,279.61 L438.68,279.54 L437.40,279.48 L436.11,279.42 L434.83,279.38 L433.54,279.34 L432.26,279.31 L430.97,279.28 L429.69,279.27 L428.40,279.26 L427.12,279.27 L425.83,279.28 L424.55,279.29 L423.26,279.32 L421.98,279.36 L420.69,279.40 L419.41,279.46 L418.12,279.52 L416.84,279.59 L415.55,279.67 L414.27,279.76 L412.98,279.86 L411.70,279.96 L410.41,280.08 L409.13,280.21 L407.84,280.34 L406.56,280.49 L405.27,280.64 L403.99,280.80 L402.70,280.98 L401.42,281.16 L400.13,281.36 L398.85,281.56 L397.56,281.77 L396.28,282.00 L395.00,282.23 L393.71,282.48 L392.43,282.73 L391.14,283.00 L389.86,283.27 L388.57,283.56 L387.29,283.86 L386.00,284.17 L384.72,284.49 L383.43,284.82 L382.15,285.16 L380.86,285.51 L379.58,285.87 L378.29,286.25 L377.01,286.64 L375.72,287.04 L374.44,287.45 L373.15,287.87 L371.87,288.30 L370.58,288.75 L369.30,289.20 L368.01,289.67 L366.73,290.16 L365.44,290.65 L364.16,291.16 L362.87,291.67 L361.59,292.21 L360.30,292.75 L359.02,293.30 L357.73,293.87 L356.45,294.46 L355.16,295.05 L353.88,295.66 L352.59,296.28 L351.31,296.91 L350.02,297.55 L348.74,298.21 L347.45,298.89 L346.17,299.57 L344.88,300.27 L343.60,300.98 L342.31,301.71 L341.03,302.44 L339.75,303.20 L338.46,303.96 L337.18,304.74 L335.89,305.53 L334.61,306.26 L333.32,307.00 L332.04,307.74 L330.75,308.51 L329.47,309.28 L328.18,310.07 L326.90,310.88 L325.61,311.69 L324.33,312.52 L323.04,313.36 L321.76,314.21 L320.47,315.08 L319.19,315.96 L317.90,316.85 L316.62,317.75 L315.33,318.67 L314.05,319.60 L312.76,320.53 L311.48,321.53 L310.19,322.57 L308.91,323.62 L307.62,324.68 L306.34,325.76 L305.05,326.84 L303.77,327.93 L302.48,329.03 L301.20,330.14 L299.91,331.26 L298.63,332.38 L297.34,333.51 L296.06,334.65 L294.77,335.79 L293.49,336.93 L292.20,338.08 L290.92,339.23 L289.63,340.39 L288.35,341.54 L287.06,342.70 L285.78,343.85 L284.50,345.00 L283.21,346.15 L281.93,347.29 L280.64,348.42 L279.36,349.55 L278.07,350.66 L276.79,351.77 L275.50,352.86 L274.22,353.94 L272.93,354.99 L271.65,356.03 L270.36,357.05 L269.08,358.04 L267.79,359.00 L266.51,359.93 L265.22,360.83Z" fill="#ccccff" stroke="none"/>
<path d="M265.22,360.83 L266.51,359.93 L267.79,359.00 L269.08,358.04 L270.36,357.05 L271.65,356.03 L272.93,354.99 L274.22,353.94 L275.50,352.86 L276.79,351.77 L278.07,350.66 L279.36,349.55 L280.64,348.42 L281.93,347.29 L283.21,346.15 L284.50,345.00 L285.78,343.85 L287.06,342.70 L288.35,341.54 L289.63,340.39 L290.92,339.23 L292.20,338.08 L293.49,336.93 L294.77,335.79 L296.06,334.65 L297.34,333.51 L298.63,332.38 L299.91,331.26 L301.20,330.14 L302.48,329.03 L303.77,327.93 L305.05,326.84 L306.34,325.76 L307.62,324.68 L308.91,323.62 L310.19,322.57 L311.48,321.53 L312.76,320.46 L314.05,319.36 L315.33,318.27 L316.62,317.19 L317.90,316.12 L319.19,315.07 L320.47,314.03 L321.76,313.00 L323.04,311.98 L324.33,310.98 L325.61,309.98 L326.90,309.01 L328.18,308.04 L329.47,307.09 L330.75,306.15 L332.04,305.22 L333.32,304.31 L334.61,303.41 L335.89,302.53 L337.18,301.74 L338.46,300.96 L339.75,300.20 L341.03,299.44 L342.31,298.71 L343.60,297.98 L344.88,297.27 L346.17,296.57 L347.45,295.89 L348.74,295.21 L350.02,294.55 L351.31,293.91 L352.59,293.28 L353.88,292.66 L355.16,292.05 L356.45,291.46 L357.73,290.87 L359.02,290.30 L360.30,289.75 L361.59,289.21 L362.87,288.67 L364.16,288.16 L365.44,287.65 L366.73,287.16 L368.01,286.67 L369.30,286.20 L370.58,285.75 L371.87,285.30 L373.15,284.87 L374.44,284.45 L375.72,284.04 L377.01,283.64 L378.29,283.25 L379.58,282.87 L380.86,282.51 L382.15,282.16 L383.43,281.82 L384.72,281.49 L386.00,281.17 L387.29,280.86 L388.57,280.56 L389.86,280.27 L391.14,280.00 L392.43,279.73 L393.71,279.48 L395.00,279.23 L396.28,279.00 L397.56,278.77 L398.85,278.56 L400.13,278.36 L401.42,278.16 L402.70,277.98 L403.99,277.80 L405.27,277.64 L406.56,277.49 L407.84,277.34 L409.13,277.21 L410.41,277.08 L411.70,276.96 L412.98,276.86 L414.27,276.76 L415.55,276.67 L416.84,276.59 L418.12,276.52 L419.41,276.46 L420.69,276.40 L421.98,276.36 L423.26,276.32 L424.55,276.29 L425.83,276.28 L427.12,276.27 L428.40,276.26 L429.69,276.27 L430.97,276.28 L432.26,276.31 L433.54,276.34 L434.83,276.38 L436.11,276.42 L437.40,276.48 L438.68,276.54 L439.97,276.61 L441.25,276.69 L442.54,276.77 L443.82,276.87 L445.11,276.97 L446.39,277.07 L447.68,277.19 L448.96,277.31 L450.25,277.44 L451.53,277.58 L452.82,277.72 L454.10,277.87 L455.38,278.03 L456.67,278.19 L457.95,278.36 L459.24,278.54 L460.52,278.73 L461.81,278.92 L463.09,279.12 L464.38,279.32 L465.66,279.53 L466.95,279.75 L468.23,279.97 L469.52,280.21 L470.80,280.44 L472.09,280.68 L473.37,280.93 L474.66,281.19 L475.94,281.45 L477.23,281.72 L478.51,281.99 L479.80,282.27 L481.08,282.55 L482.37,282.84 L483.65,283.14 L484.94,283.44 L486.22,283.75 L487.51,284.06 L488.79,284.38 L490.08,284.71 L491.36,285.04 L492.65,285.37 L493.93,285.71 L495.22,286.06 L496.50,286.41 L497.79,286.76 L499.07,287.13 L500.36,287.49 L501.64,287.86 L502.93,288.24 L504.21,288.62 L505.50,289.01 L506.78,289.40 L508.07,289.80 L509.35,290.20 L510.63,290.60 L511.92,291.01 L513.20,291.43 L514.49,291.85 L515.77,292.27 L517.06,292.70 L518.34,293.14 L519.63,293.57 L520.91,294.05 L522.20,294.55 L523.48,295.06 L524.77,295.58 L526.05,296.10 L527.34,296.62 L528.62,297.15 L529.91,297.68 L531.19,298.21 L532.48,298.75 L533.76,299.29 L535.05,299.84 L536.33,300.39 L537.62,300.95 L538.90,301.51 L540.19,302.07 L541.47,302.64 L542.76,303.21 L544.04,303.78 L545.33,304.36 L546.61,304.94 L547.90,305.53 L549.18,306.12 L550.47,306.71 L551.75,307.31 L553.04,307.91 L554.32,308.46 L555.61,309.01 L556.89,309.56 L558.18,310.12 L559.46,310.68 L560.75,311.24 L562.03,311.81 L563.32,312.38 L564.60,312.95 L565.88,313.53 L567.17,314.11 L568.45,314.69 L569.74,315.28 L571.02,315.87 L572.31,316.46 L573.59,317.06 L574.88,317.66 L576.16,318.26 L577.45,318.87 L578.73,319.47 L580.02,320.09 L581.30,320.70 L582.59,321.32 L583.87,321.94 L585.16,322.57 L586.44,323.20 L587.73,323.83 L589.01,324.46 L590.30,325.10 L591.58,325.74 L592.87,326.39 L594.15,327.04 L595.44,327.69 L596.72,328.34 L598.01,329.00 L599.29,329.66 L600.58,330.33 L601.86,331.00 L603.15,331.67 L604.43,332.35 L605.72,333.03 L607.00,333.72 L608.29,334.41 L609.57,335.10 L610.86,335.80 L612.14,336.50 L613.43,337.21 L614.71,337.92 L616.00,338.64 L617.28,339.37 L618.57,340.10 L619.85,340.84 L621.13,341.58 L622.42,342.34 L623.70,343.10 L624.99,343.87 L626.27,344.65 L627.56,345.44 L628.84,346.24 L630.13,347.05 L631.41,347.88 L632.70,348.73 L633.98,349.59 L635.27,350.48 L636.55,351.39 L637.84,352.33 L639.12,353.30 L640.41,354.32 L641.69,355.39 L642.98,356.53 L644.26,357.76 L645.55,359.13 L646.83,360.71 L648.12,362.73 L649.40,367.45" fill="none" stroke="#2020ff" stroke-width="0.9" stroke-dasharray="2,3.3"/>
<path d="M265.22,360.83 L266.51,359.93 L267.79,359.00 L269.08,358.04 L270.36,357.05 L271.65,356.03 L272.93,354.99 L274.22,353.94 L275.50,352.86 L276.79,351.77 L278.07,350.66 L279.36,349.55 L280.64,348.42 L281.93,347.29 L283.21,346.15 L284.50,345.00 L285.78,343.85 L287.06,342.70 L288.35,341.54 L289.63,340.39 L290.92,339.23 L292.20,338.08 L293.49,336.93 L294.77,335.79 L296.06,334.65 L297.34,333.51 L298.63,332.38 L299.91,331.26 L301.20,330.14 L302.48,329.03 L303.77,327.93 L305.05,326.84 L306.34,325.76 L307.62,324.68 L308.91,323.62 L310.19,322.57 L311.48,321.53 L312.76,320.53 L314.05,319.60 L315.33,318.67 L316.62,317.75 L317.90,316.85 L319.19,315.96 L320.47,315.08 L321.76,314.21 L323.04,313.36 L324.33,312.52 L325.61,311.69 L326.90,310.88 L328.18,310.07 L329.47,309.28 L330.75,308.51 L332.04,307.74 L333.32,307.00 L334.61,306.26 L335.89,305.53 L337.18,304.74 L338.46,303.96 L339.75,303.20 L341.03,302.44 L342.31,301.71 L343.60,300.98 L344.88,300.27 L346.17,299.57 L347.45,298.89 L348.74,298.21 L350.02,297.55 L351.31,296.91 L352.59,296.28 L353.88,295.66 L355.16,295.05 L356.45,294.46 L357.73,293.87 L359.02,293.30 L360.30,292.75 L361.59,292.21 L362.87,291.67 L364.16,291.16 L365.44,290.65 L366.73,290.16 L368.01,289.67 L369.30,289.20 L370.58,288.75 L371.87,288.30 L373.15,287.87 L374.44,287.45 L375.72,287.04 L377.01,286.64 L378.29,286.25 L379.58,285.87 L380.86,285.51 L382.15,285.16 L383.43,284.82 L384.72,284.49 L386.00,284.17 L387.29,283.86 L388.57,283.56 L389.86,283.27 L391.14,283.00 L392.43,282.73 L393.71,282.48 L395.00,282.23 L396.28,282.00 L397.56,281.77 L398.85,281.56 L400.13,281.36 L401.42,281.16 L402.70,280.98 L403.99,280.80 L405.27,280.64 L406.56,280.49 L407.84,280.34 L409.13,280.21 L410.41,280.08 L411.70,279.96 L412.98,279.86 L414.27,279.76 L415.55,279.67 L416.84,279.59 L418.12,279.52 L419.41,279.46 L420.69,279.40 L421.98,279.36 L423.26,279.32 L424.55,279.29 L425.83,279.28 L427.12,279.27 L428.40,279.26 L429.69,279.27 L430.97,279.28 L432.26,279.31 L433.54,279.34 L434.83,279.38 L436.11,279.42 L437.40,279.48 L438.68,279.54 L439.97,279.61 L441.25,279.69 L442.54,279.77 L443.82,279.87 L445.11,279.97 L446.39,280.07 L447.68,280.19 L448.96,280.31 L450.25,280.44 L451.53,280.58 L452.82,280.72 L454.10,280.87 L455.38,281.03 L456.67,281.19 L457.95,281.36 L459.24,281.54 L460.52,281.73 L461.81,281.92 L463.09,282.12 L464.38,282.32 L465.66,282.53 L466.95,282.75 L468.23,282.97 L469.52,283.21 L470.80,283.44 L472.09,283.68 L473.37,283.93 L474.66,284.19 L475.94,284.45 L477.23,284.72 L478.51,284.99 L479.80,285.27 L481.08,285.55 L482.37,285.84 L483.65,286.14 L484.94,286.44 L486.22,286.75 L487.51,287.06 L488.79,287.38 L490.08,287.71 L491.36,288.04 L492.65,288.37 L493.93,288.71 L495.22,289.06 L496.50,289.41 L497.79,289.76 L499.07,290.13 L500.36,290.49 L501.64,290.86 L502.93,291.24 L504.21,291.62 L505.50,292.01 L506.78,292.40 L508.07,292.80 L509.35,293.20 L510.63,293.60 L511.92,294.01 L513.20,294.43 L514.49,294.85 L515.77,295.27 L517.06,295.70 L518.34,296.14 L519.63,296.57 L520.91,296.98 L522.20,297.37 L523.48,297.77 L524.77,298.16 L526.05,298.57 L527.34,298.97 L528.62,299.38 L529.91,299.80 L531.19,300.21 L532.48,300.64 L533.76,301.06 L535.05,301.49 L536.33,301.93 L537.62,302.37 L538.90,302.81 L540.19,303.26 L541.47,303.71 L542.76,304.16 L544.04,304.62 L545.33,305.08 L546.61,305.55 L547.90,306.02 L549.18,306.49 L550.47,306.97 L551.75,307.45 L553.04,307.93 L554.32,308.46 L555.61,309.01 L556.89,309.56 L558.18,310.12 L559.46,310.68 L560.75,311.24 L562.03,311.81 L563.32,312.38 L564.60,312.95 L565.88,313.53 L567.17,314.11 L568.45,314.69 L569.74,315.28 L571.02,315.87 L572.31,316.46 L573.59,317.06 L574.88,317.66 L576.16,318.26 L577.45,318.87 L578.73,319.47 L580.02,320.09 L581.30,320.70 L582.59,321.32 L583.87,321.94 L585.16,322.57 L586.44,323.20 L587.73,323.83 L589.01,324.46 L590.30,325.10 L591.58,325.74 L592.87,326.39 L594.15,327.04 L595.44,327.69 L596.72,328.34 L598.01,329.00 L599.29,329.66 L600.58,330.33 L601.86,331.00 L603.15,331.67 L604.43,332.35 L605.72,333.03 L607.00,333.72 L608.29,334.41 L609.57,335.10 L610.86,335.80 L612.14,336.50 L613.43,337.21 L614.71,337.92 L616.00,338.64 L617.28,339.37 L618.57,340.10 L619.85,340.84 L621.13,341.58 L622.42,342.34 L623.70,343.10 L624.99,343.87 L626.27,344.65 L627.56,345.44 L628.84,346.24 L630.13,347.05 L631.41,347.88 L632.70,348.73 L633.98,349.59 L635.27,350.48 L636.55,351.39 L637.84,352.33 L639.12,353.30 L640.41,354.32 L641.69,355.39 L642.98,356.53 L644.26,357.76 L645.55,359.13 L646.83,360.71 L648.12,362.73 L649.40,367.45" fill="none" stroke="#2020ff" stroke-width="0.9" stroke-dasharray="2,3.3"/>
<path d="M99.93,367.45 L99.93,367.43 L99.94,367.10 L99.95,365.81 L99.97,362.73 L100.00,357.15 L100.03,348.71 L100.06,337.46 L100.11,323.78 L100.15,308.29 L100.21,291.68 L100.26,274.64 L100.33,257.74 L100.40,241.43 L100.47,226.01 L100.55,211.68 L100.64,198.54 L100.73,186.61 L100.83,175.86 L100.93,166.23 L101.04,157.63 L101.15,149.98 L101.27,143.19 L101.39,137.17 L101.52,131.83 L101.66,127.09 L101.80,122.89 L101.95,119.17 L102.10,115.87 L102.26,112.93 L102.42,110.32 L102.59,108.00 L102.76,105.93 L102.94,104.09 L103.13,102.45 L103.32,100.99 L103.52,99.69 L103.72,98.53 L103.92,97.50 L104.14,96.58 L104.36,95.76 L104.58,95.04 L104.81,94.40 L105.04,93.83 L105.28,93.33 L105.53,92.90 L105.78,92.52 L106.03,92.19 L106.30,91.90 L106.56,91.66 L106.84,91.45 L107.11,91.28 L107.40,91.13 L107.69,91.02 L107.98,90.93 L108.28,90.87 L108.58,90.82 L108.89,90.80 L109.21,90.79 L109.53,90.80 L109.86,90.83 L110.19,90.87 L110.53,90.92 L110.87,90.98 L111.22,91.05 L111.57,91.13 L111.93,91.23 L112.29,91.33 L112.66,91.43 L113.03,91.55 L113.41,91.67 L113.80,91.80 L114.19,91.93 L114.58,92.07 L114.98,92.22 L115.39,92.37 L115.80,92.52 L116.22,92.68 L116.64,92.84 L117.06,93.01 L117.50,93.18 L117.93,93.35 L118.38,93.53 L118.82,93.71 L119.28,93.90 L119.73,94.08 L120.20,94.28 L120.66,94.47 L121.14,94.67 L121.62,94.87 L122.10,95.07 L122.59,95.27 L123.08,95.48 L123.58,95.69 L124.08,95.91 L124.59,96.12 L125.11,96.34 L125.63,96.56 L126.15,96.79 L126.68,97.01 L127.21,97.24 L127.75,97.47 L128.29,97.71 L128.84,97.94 L129.40,98.18 L129.96,98.42 L130.52,98.67 L131.09,98.91 L131.66,99.16 L132.24,99.41 L132.82,99.66 L133.41,99.92 L134.01,100.17 L134.60,100.43 L135.21,100.69 L135.81,100.96 L136.43,101.22 L137.04,101.49 L137.67,101.76 L138.29,102.04 L138.93,102.31 L139.56,102.59 L140.20,102.87 L140.85,103.15 L141.50,103.43 L142.16,103.72 L142.82,104.01 L143.48,104.30 L144.15,104.59 L144.82,104.88 L145.50,105.18 L146.19,105.48 L146.87,105.78 L147.57,106.08 L148.26,106.39 L148.97,106.70 L149.67,107.01 L150.38,107.32 L151.10,107.63 L151.82,107.95 L152.54,108.27 L153.27,108.59 L154.01,108.91 L154.74,109.24 L155.49,109.57 L156.23,109.90 L156.98,110.23 L157.74,110.56 L158.50,110.90 L159.26,111.24 L160.03,111.58 L160.80,111.92 L161.58,112.27 L162.36,112.62 L163.15,112.97 L163.94,113.32 L164.73,113.67 L165.53,114.03 L166.34,114.39 L167.14,114.75 L167.95,115.11 L168.77,115.48 L169.59,115.85 L170.41,116.22 L171.24,116.59 L172.07,116.96 L172.91,117.34 L173.75,117.72 L174.59,118.10 L175.44,118.49 L176.29,118.87 L177.15,119.26 L178.01,119.65 L178.87,120.04 L179.74,120.44 L180.61,120.83 L181.49,121.23 L182.37,121.63 L183.25,122.04 L184.14,122.44 L185.03,122.85 L185.93,123.26 L186.83,123.68 L187.73,124.09 L188.64,124.51 L189.55,124.93 L190.46,125.35 L191.38,125.77 L192.30,126.20 L193.23,126.63 L194.16,127.06 L195.09,127.49 L196.03,127.93 L196.97,128.37 L197.91,128.81 L198.86,129.25 L199.81,129.69 L200.76,130.14 L201.72,130.59 L202.68,131.04 L203.65,131.49 L204.61,131.95 L205.58,132.41 L206.56,132.87 L207.54,133.33 L208.52,133.79 L209.50,134.26 L210.49,134.73 L211.49,135.20 L212.48,135.68 L213.48,136.15 L214.48,136.63 L215.48,137.11 L216.49,137.59 L217.50,138.08 L218.52,138.57 L219.54,139.05 L220.56,139.55 L221.58,140.04 L222.61,140.54 L223.64,141.03 L224.67,141.53 L225.71,142.04 L226.75,142.54 L227.79,143.05 L228.83,143.56 L229.88,144.07 L230.93,144.58 L231.98,145.10 L233.04,145.62 L234.10,146.14 L235.16,146.66 L236.23,147.19 L237.30,147.71 L238.37,148.24 L239.44,148.77 L240.52,149.31 L241.60,149.84 L242.68,150.38 L243.76,150.92 L244.85,151.46 L245.94,152.01 L247.03,152.55 L248.13,153.10 L249.22,153.65 L250.32,154.21 L251.42,154.76 L252.53,155.32 L253.64,155.88 L254.75,156.44 L255.86,157.00 L256.97,157.57 L258.09,158.14 L259.21,158.71 L260.33,159.28 L261.45,159.85 L262.58,160.43 L263.71,161.00 L264.84,161.58 L265.97,162.17 L267.11,162.75 L268.25,163.34 L269.39,163.93 L270.53,164.52 L271.67,165.11 L272.82,165.70 L273.96,166.30 L275.11,166.90 L276.27,167.50 L277.42,168.10 L278.58,168.70 L279.73,169.31 L280.89,169.92 L282.05,170.53 L283.22,171.14 L284.38,171.75 L285.55,172.37 L286.72,172.99 L287.89,173.61 L289.06,174.23 L290.24,174.85 L291.41,175.47 L292.59,176.10 L293.77,176.73 L294.95,177.36 L296.13,177.99 L297.32,178.63 L298.50,179.26 L299.69,179.90 L300.88,180.54 L302.07,181.18 L303.26,181.83 L304.45,182.47 L305.65,183.12 L306.84,183.77 L308.04,184.42 L309.24,185.07 L310.44,185.72 L311.64,186.38 L312.84,187.03 L314.05,187.69 L315.25,188.35 L316.46,189.01 L317.66,189.68 L318.87,190.34 L320.08,191.01 L321.29,191.68 L322.51,192.35 L323.72,193.02 L324.93,193.69 L326.15,194.36 L327.36,195.04 L328.58,195.72 L329.80,196.39 L331.02,197.07 L332.24,197.76 L333.46,198.44 L334.68,199.12 L335.90,199.81 L337.12,200.50 L338.35,201.18 L339.57,201.87 L340.79,202.57 L342.02,203.26 L343.25,203.95 L344.47,204.65 L345.70,205.34 L346.93,206.04 L348.16,206.74 L349.39,207.44 L350.62,208.14 L351.85,208.84 L353.08,209.54 L354.31,210.25 L355.54,210.95 L356.77,211.66 L358.01,212.37 L359.24,213.08 L360.47,213.79 L361.70,214.50 L362.94,215.21 L364.17,215.92 L365.41,216.64 L366.64,217.35 L367.87,218.07 L369.11,218.78 L370.34,219.50 L371.58,220.22 L372.81,220.94 L374.05,221.66 L375.28,222.38 L376.52,223.10 L377.75,223.82 L378.99,224.54 L380.22,225.27 L381.46,225.99 L382.69,226.72 L383.92,227.44 L385.16,228.17 L386.39,228.89 L387.63,229.62 L388.86,230.35 L390.09,231.08 L391.32,231.81 L392.56,232.54 L393.79,233.27 L395.02,234.00 L396.25,234.73 L397.48,235.46 L398.71,236.19 L399.94,236.92 L401.17,237.65 L402.40,238.39 L403.63,239.12 L404.86,239.85 L406.08,240.58 L407.31,241.32 L408.54,242.05 L409.76,242.78 L410.98,243.52 L412.21,244.25 L413.43,244.98 L414.65,245.72 L415.87,246.45 L417.09,247.18 L418.31,247.92 L419.53,248.65 L420.75,249.39 L421.97,250.12 L423.18,250.85 L424.40,251.58 L425.61,252.32 L426.82,253.05 L428.04,253.78 L429.25,254.51 L430.46,255.25 L431.67,255.98 L432.87,256.71 L434.08,257.44 L435.28,258.17 L436.49,258.90 L437.69,259.63 L438.89,260.36 L440.09,261.08 L441.29,261.81 L442.49,262.54 L443.68,263.26 L444.88,263.99 L446.07,264.71 L447.26,265.44 L448.45,266.16 L449.64,266.88 L450.83,267.61 L452.01,268.33 L453.20,269.05 L454.38,269.77 L455.56,270.49 L456.74,271.20 L457.92,271.92 L459.09,272.63 L460.27,273.35 L461.44,274.06 L462.61,274.77 L463.78,275.49 L464.95,276.20 L466.11,276.90 L467.28,277.61 L468.44,278.32 L469.60,279.02 L470.75,279.73 L471.91,280.43 L473.06,281.13 L474.22,281.83 L475.37,282.53 L476.51,283.23 L477.66,283.92 L478.80,284.62 L479.95,285.31 L481.08,286.00 L482.22,286.69 L483.36,287.38 L484.49,288.06 L485.62,288.75 L486.75,289.43 L487.88,290.11 L489.00,290.79 L490.12,291.47 L491.24,292.14 L492.36,292.82 L493.47,293.49 L494.58,294.16 L495.69,294.83 L496.80,295.49 L497.91,296.16 L499.01,296.82 L500.11,297.48 L501.21,298.14 L502.30,298.79 L503.39,299.45 L504.48,300.10 L505.57,300.75 L506.65,301.40 L507.73,302.04 L508.81,302.68 L509.89,303.32 L510.96,303.96 L512.03,304.60 L513.10,305.23 L514.17,305.86 L515.23,306.49 L516.29,307.12 L517.35,307.74 L518.40,308.36 L519.45,308.98 L520.50,309.60 L521.54,310.21 L522.58,310.82 L523.62,311.43 L524.66,312.04 L525.69,312.64 L526.72,313.24 L527.75,313.84 L528.77,314.43 L529.79,315.02 L530.81,315.61 L531.83,316.20 L532.84,316.78 L533.85,317.37 L534.85,317.94 L535.85,318.52 L536.85,319.09 L537.85,319.66 L538.84,320.23 L539.83,320.79 L540.81,321.35 L541.79,321.91 L542.77,322.46 L543.75,323.01 L544.72,323.56 L545.68,324.10 L546.65,324.65 L547.61,325.18 L548.57,325.72 L549.52,326.25 L550.47,326.78 L551.42,327.31 L552.36,327.83 L553.30,328.35 L554.24,328.86 L555.17,329.38 L556.10,329.89 L557.03,330.39 L557.95,330.89 L558.87,331.39 L559.78,331.89 L560.69,332.38 L561.60,332.87 L562.50,333.36 L563.40,333.84 L564.30,334.32 L565.19,334.79 L566.08,335.26 L566.96,335.73 L567.84,336.20 L568.72,336.66 L569.59,337.12 L570.46,337.57 L571.32,338.02 L572.18,338.47 L573.04,338.91 L573.89,339.35 L574.74,339.79 L575.58,340.22 L576.42,340.65 L577.26,341.07 L578.09,341.49 L578.92,341.91 L579.74,342.33 L580.56,342.74 L581.38,343.14 L582.19,343.55 L582.99,343.95 L583.80,344.34 L584.60,344.74 L585.39,345.12 L586.18,345.51 L586.97,345.89 L587.75,346.27 L588.53,346.64 L589.30,347.01 L590.07,347.38 L590.83,347.74 L591.59,348.10 L592.35,348.45 L593.10,348.81 L593.84,349.15 L594.59,349.50 L595.32,349.84 L596.06,350.17 L596.79,350.51 L597.51,350.84 L598.23,351.16 L598.95,351.48 L599.66,351.80 L600.36,352.11 L601.07,352.43 L601.76,352.73 L602.46,353.04 L603.14,353.33 L603.83,353.63 L604.51,353.92 L605.18,354.21 L605.85,354.49 L606.51,354.78 L607.17,355.05 L607.83,355.33 L608.48,355.60 L609.13,355.86 L609.77,356.13 L610.40,356.38 L611.04,356.64 L611.66,356.89 L612.29,357.14 L612.90,357.39 L613.52,357.63 L614.12,357.86 L614.73,358.10 L615.32,358.33 L615.92,358.56 L616.51,358.78 L617.09,359.00 L617.67,359.22 L618.24,359.43 L618.81,359.64 L619.37,359.84 L619.93,360.05 L620.49,360.25 L621.04,360.44 L621.58,360.64 L622.12,360.82 L622.65,361.01 L623.18,361.19 L623.71,361.37 L624.22,361.55 L624.74,361.72 L625.25,361.89 L625.75,362.06 L626.25,362.22 L626.74,362.38 L627.23,362.54 L627.71,362.69 L628.19,362.84 L628.67,362.99 L629.13,363.13 L629.60,363.28 L630.05,363.42 L630.51,363.55 L630.95,363.68 L631.40,363.81 L631.83,363.94 L632.27,364.06 L632.69,364.18 L633.11,364.30 L633.53,364.42 L633.94,364.53 L634.35,364.64 L634.75,364.75 L635.14,364.85 L635.53,364.95 L635.92,365.05 L636.30,365.15 L636.67,365.24 L637.04,365.33 L637.40,365.42 L637.76,365.51 L638.11,365.59 L638.46,365.68 L638.80,365.75 L639.14,365.83 L639.47,365.91 L639.80,365.98 L640.12,366.05 L640.44,366.11 L640.75,366.18 L641.05,366.24 L641.35,366.30 L641.64,366.36 L641.93,366.42 L642.22,366.48 L642.49,366.53 L642.77,366.58 L643.03,366.63 L643.30,366.67 L643.55,366.72 L643.80,366.76 L644.05,366.81 L644.29,366.85 L644.52,366.88 L644.75,366.92 L644.97,366.95 L645.19,366.99 L645.41,367.02 L645.61,367.05 L645.81,367.08 L646.01,367.11 L646.20,367.13 L646.39,367.16 L646.57,367.18 L646.74,367.20 L646.91,367.22 L647.07,367.24 L647.23,367.26 L647.38,367.28 L647.53,367.29 L647.67,367.31 L647.81,367.32 L647.94,367.33 L648.06,367.34 L648.18,367.36 L648.29,367.37 L648.40,367.38 L648.50,367.38 L648.60,367.39 L648.69,367.40 L648.78,367.41 L648.86,367.41 L648.93,367.42 L649.00,367.42 L649.07,367.42 L649.12,367.43 L649.18,367.43 L649.22,367.43 L649.27,367.44 L649.30,367.44 L649.33,367.44 L649.36,367.44 L649.38,367.45 L649.39,367.45 L649.40,367.45 L649.40,367.45" fill="none" stroke="#ff0000" stroke-width="1.7" stroke-linejoin="round"/>
<path d="M248.67,367.45 L248.68,367.45 L248.70,367.45 L248.73,367.45 L248.77,367.45 L248.83,367.45 L248.90,367.45 L248.98,367.45 L249.07,367.44 L249.18,367.44 L249.29,367.44 L249.42,367.43 L249.57,367.42 L249.72,367.41 L249.89,367.40 L250.07,367.39 L250.26,367.37 L250.47,367.35 L250.68,367.32 L250.91,367.29 L251.15,367.26 L251.41,367.22 L251.67,367.17 L251.95,367.12 L252.24,367.06 L252.54,366.99 L252.86,366.92 L253.18,366.84 L253.52,366.75 L253.87,366.65 L254.24,366.54 L254.61,366.41 L255.00,366.28 L255.40,366.14 L255.81,365.99 L256.23,365.82 L256.67,365.64 L257.12,365.45 L257.58,365.25 L258.05,365.03 L258.53,364.80 L259.02,364.55 L259.53,364.29 L260.05,364.02 L260.58,363.72 L261.12,363.42 L261.67,363.10 L262.24,362.76 L262.81,362.40 L263.40,362.03 L264.00,361.64 L264.61,361.24 L265.23,360.82 L265.87,360.38 L266.51,359.92 L267.17,359.45 L267.84,358.97 L268.52,358.46 L269.21,357.94 L269.91,357.40 L270.62,356.84 L271.34,356.27 L272.08,355.69 L272.82,355.08 L273.58,354.46 L274.35,353.83 L275.12,353.18 L275.91,352.51 L276.71,351.83 L277.52,351.14 L278.34,350.43 L279.18,349.71 L280.02,348.97 L280.87,348.22 L281.73,347.46 L282.61,346.68 L283.49,345.90 L284.38,345.10 L285.29,344.29 L286.20,343.47 L287.13,342.64 L288.06,341.80 L289.00,340.95 L289.96,340.10 L290.92,339.23 L291.90,338.36 L292.88,337.48 L293.87,336.59 L294.88,335.70 L295.89,334.80 L296.91,333.89 L297.94,332.98 L298.98,332.07 L300.03,331.15 L301.09,330.23 L302.16,329.31 L303.24,328.38 L304.32,327.46 L305.42,326.53 L306.53,325.60 L307.64,324.67 L308.76,323.74 L309.89,322.81 L311.03,321.89 L312.18,320.96 L313.34,320.04 L314.50,319.12 L315.67,318.20 L316.85,317.29 L318.04,316.38 L319.24,315.47 L320.45,314.57 L321.66,313.67 L322.88,312.78 L324.11,311.90 L325.35,311.02 L326.60,310.15 L327.85,309.28 L329.11,308.43 L330.38,307.58 L331.65,306.74 L332.93,305.90 L334.22,305.08 L335.52,304.26 L336.82,303.46 L338.13,302.66 L339.45,301.87 L340.77,301.09 L342.10,300.33 L343.44,299.57 L344.79,298.82 L346.14,298.09 L347.49,297.37 L348.86,296.65 L350.23,295.95 L351.60,295.26 L352.98,294.59 L354.37,293.92 L355.76,293.27 L357.16,292.63 L358.57,292.00 L359.98,291.39 L361.39,290.79 L362.81,290.20 L364.24,289.62 L365.67,289.06 L367.11,288.51 L368.55,287.98 L370.00,287.45 L371.45,286.94 L372.91,286.45 L374.37,285.97 L375.84,285.50 L377.31,285.05 L378.78,284.61 L380.26,284.18 L381.75,283.77 L383.23,283.37 L384.73,282.98 L386.22,282.61 L387.72,282.26 L389.23,281.91 L390.73,281.58 L392.25,281.27 L393.76,280.97 L395.28,280.68 L396.80,280.41 L398.32,280.15 L399.85,279.90 L401.38,279.67 L402.92,279.45 L404.45,279.24 L405.99,279.05 L407.53,278.88 L409.08,278.71 L410.63,278.56 L412.18,278.42 L413.73,278.30 L415.28,278.19 L416.84,278.09 L418.40,278.00 L419.96,277.93 L421.52,277.87 L423.08,277.83 L424.65,277.79 L426.21,277.77 L427.78,277.76 L429.35,277.77 L430.92,277.78 L432.49,277.81 L434.06,277.85 L435.64,277.90 L437.21,277.97 L438.79,278.05 L440.36,278.13 L441.94,278.23 L443.52,278.34 L445.09,278.46 L446.67,278.60 L448.25,278.74 L449.83,278.90 L451.40,279.06 L452.98,279.24 L454.56,279.43 L456.14,279.62 L457.71,279.83 L459.29,280.05 L460.86,280.28 L462.44,280.52 L464.01,280.76 L465.58,281.02 L467.16,281.29 L468.73,281.56 L470.30,281.85 L471.86,282.14 L473.43,282.44 L475.00,282.76 L476.56,283.08 L478.12,283.41 L479.68,283.74 L481.24,284.09 L482.79,284.44 L484.35,284.80 L485.90,285.17 L487.45,285.55 L489.00,285.93 L490.54,286.32 L492.08,286.72 L493.62,287.13 L495.16,287.54 L496.69,287.96 L498.22,288.39 L499.75,288.82 L501.28,289.26 L502.80,289.70 L504.32,290.15 L505.83,290.61 L507.34,291.07 L508.85,291.54 L510.35,292.01 L511.85,292.49 L513.35,292.98 L514.84,293.47 L516.33,293.96 L517.81,294.46 L519.29,294.96 L520.77,295.47 L522.24,295.98 L523.71,296.49 L525.17,297.01 L526.62,297.54 L528.08,298.06 L529.52,298.59 L530.97,299.13 L532.40,299.67 L533.83,300.21 L535.26,300.75 L536.68,301.30 L538.10,301.84 L539.51,302.40 L540.91,302.95 L542.31,303.51 L543.71,304.07 L545.09,304.63 L546.48,305.19 L547.85,305.75 L549.22,306.32 L550.58,306.89 L551.94,307.46 L553.29,308.03 L554.63,308.60 L555.97,309.17 L557.30,309.74 L558.63,310.32 L559.94,310.89 L561.25,311.47 L562.56,312.04 L563.85,312.62 L565.14,313.20 L566.43,313.77 L567.70,314.35 L568.97,314.93 L570.23,315.50 L571.48,316.08 L572.73,316.65 L573.96,317.23 L575.19,317.80 L576.41,318.38 L577.63,318.95 L578.83,319.52 L580.03,320.09 L581.22,320.66 L582.40,321.23 L583.58,321.80 L584.74,322.36 L585.90,322.93 L587.05,323.49 L588.18,324.05 L589.32,324.61 L590.44,325.17 L591.55,325.73 L592.66,326.28 L593.75,326.83 L594.84,327.38 L595.92,327.93 L596.98,328.48 L598.04,329.02 L599.09,329.56 L600.13,330.10 L601.17,330.64 L602.19,331.17 L603.20,331.70 L604.20,332.23 L605.20,332.75 L606.18,333.28 L607.15,333.80 L608.12,334.32 L609.07,334.83 L610.02,335.34 L610.95,335.85 L611.87,336.36 L612.79,336.86 L613.69,337.36 L614.59,337.86 L615.47,338.35 L616.34,338.84 L617.21,339.33 L618.06,339.81 L618.90,340.29 L619.73,340.77 L620.55,341.25 L621.36,341.72 L622.16,342.19 L622.95,342.65 L623.73,343.11 L624.50,343.57 L625.25,344.03 L626.00,344.48 L626.73,344.93 L627.46,345.37 L628.17,345.82 L628.87,346.25 L629.56,346.69 L630.24,347.12 L630.91,347.55 L631.56,347.98 L632.21,348.40 L632.84,348.82 L633.46,349.24 L634.07,349.65 L634.67,350.07 L635.26,350.47 L635.84,350.88 L636.40,351.28 L636.96,351.68 L637.50,352.08 L638.03,352.47 L638.55,352.86 L639.05,353.25 L639.55,353.63 L640.03,354.01 L640.50,354.39 L640.96,354.77 L641.41,355.15 L641.84,355.52 L642.27,355.89 L642.68,356.26 L643.08,356.62 L643.46,356.98 L643.84,357.34 L644.20,357.70 L644.55,358.06 L644.89,358.41 L645.22,358.76 L645.53,359.11 L645.84,359.46 L646.13,359.81 L646.40,360.15 L646.67,360.50 L646.92,360.84 L647.16,361.18 L647.39,361.52 L647.61,361.85 L647.81,362.19 L648.01,362.53 L648.19,362.86 L648.35,363.19 L648.51,363.52 L648.65,363.85 L648.78,364.18 L648.90,364.51 L649.00,364.84 L649.10,365.17 L649.18,365.49 L649.25,365.82 L649.30,366.15 L649.35,366.47 L649.38,366.80 L649.40,367.12 L649.40,367.45" fill="none" stroke="#0000ff" stroke-width="1.7" stroke-linejoin="round"/>
<path d="M122.71,70.88V99.28M120.31,70.88h4.8M120.31,99.28h4.8" stroke="#000" stroke-width="1.4" fill="none"/>
<circle cx="122.71" cy="85.30" r="2.2" fill="#000"/>
<path d="M173.77,107.23V135.48M171.37,107.23h4.8M171.37,135.48h4.8" stroke="#000" stroke-width="1.4" fill="none"/>
<circle cx="173.77" cy="121.49" r="2.2" fill="#000"/>
<path d="M229.66,125.88V149.46M227.26,125.88h4.8M227.26,149.46h4.8" stroke="#000" stroke-width="1.4" fill="none"/>
<circle cx="229.66" cy="137.40" r="2.2" fill="#000"/>
<path d="M285.54,160.29V183.35M283.14,160.29h4.8M283.14,183.35h4.8" stroke="#000" stroke-width="1.4" fill="none"/>
<circle cx="285.54" cy="171.67" r="2.2" fill="#000"/>
<path d="M341.66,195.39V214.06M339.26,195.39h4.8M339.26,214.06h4.8" stroke="#000" stroke-width="1.4" fill="none"/>
<circle cx="341.66" cy="204.90" r="2.2" fill="#000"/>
<path d="M397.88,238.66V252.56M395.48,238.66h4.8M395.48,252.56h4.8" stroke="#000" stroke-width="1.4" fill="none"/>
<circle cx="397.88" cy="245.35" r="2.2" fill="#000"/>
<path d="M453.91,265.26V279.43M451.51,265.26h4.8M451.51,279.43h4.8" stroke="#000" stroke-width="1.4" fill="none"/>
<circle cx="453.91" cy="271.95" r="2.2" fill="#000"/>
<path d="M509.79,299.83V309.18M507.39,299.83h4.8M507.39,309.18h4.8" stroke="#000" stroke-width="1.4" fill="none"/>
<circle cx="509.79" cy="304.52" r="2.2" fill="#000"/>
<rect x="563.15" y="332.25" width="4.6" height="5.7" fill="#000"/>
<rect x="619.1" y="360.15" width="4.6" height="5.7" fill="#000"/>
<path d="M99.40,374.45v-7.4M99.40,20.5v7.4M123.04,374.45v-3.7M123.04,20.5v3.7M146.68,374.45v-3.7M146.68,20.5v3.7M170.32,374.45v-3.7M170.32,20.5v3.7M193.96,374.45v-7.4M193.96,20.5v7.4M217.60,374.45v-3.7M217.60,20.5v3.7M241.24,374.45v-3.7M241.24,20.5v3.7M264.88,374.45v-3.7M264.88,20.5v3.7M288.52,374.45v-7.4M288.52,20.5v7.4M312.16,374.45v-3.7M312.16,20.5v3.7M335.80,374.45v-3.7M335.80,20.5v3.7M359.44,374.45v-3.7M359.44,20.5v3.7M383.08,374.45v-7.4M383.08,20.5v7.4M406.72,374.45v-3.7M406.72,20.5v3.7M430.36,374.45v-3.7M430.36,20.5v3.7M454.00,374.45v-3.7M454.00,20.5v3.7M477.64,374.45v-7.4M477.64,20.5v7.4M501.28,374.45v-3.7M501.28,20.5v3.7M524.92,374.45v-3.7M524.92,20.5v3.7M548.56,374.45v-3.7M548.56,20.5v3.7M572.20,374.45v-7.4M572.20,20.5v7.4M595.84,374.45v-3.7M595.84,20.5v3.7M619.48,374.45v-3.7M619.48,20.5v3.7M643.12,374.45v-3.7M643.12,20.5v3.7M88.0,367.45h7.4M660.5,367.45h-7.4M88.0,353.74h3.7M660.5,353.74h-3.7M88.0,340.03h3.7M660.5,340.03h-3.7M88.0,326.32h3.7M660.5,326.32h-3.7M88.0,312.61h7.4M660.5,312.61h-7.4M88.0,298.90h3.7M660.5,298.90h-3.7M88.0,285.19h3.7M660.5,285.19h-3.7M88.0,271.48h3.7M660.5,271.48h-3.7M88.0,257.77h7.4M660.5,257.77h-7.4M88.0,244.06h3.7M660.5,244.06h-3.7M88.0,230.35h3.7M660.5,230.35h-3.7M88.0,216.64h3.7M660.5,216.64h-3.7M88.0,202.93h7.4M660.5,202.93h-7.4M88.0,189.22h3.7M660.5,189.22h-3.7M88.0,175.51h3.7M660.5,175.51h-3.7M88.0,161.80h3.7M660.5,161.80h-3.7M88.0,148.09h7.4M660.5,148.09h-7.4M88.0,134.38h3.7M660.5,134.38h-3.7M88.0,120.67h3.7M660.5,120.67h-3.7M88.0,106.96h3.7M660.5,106.96h-3.7M88.0,93.25h7.4M660.5,93.25h-7.4M88.0,79.54h3.7M660.5,79.54h-3.7M88.0,65.83h3.7M660.5,65.83h-3.7M88.0,52.12h3.7M660.5,52.12h-3.7M88.0,38.41h7.4M660.5,38.41h-7.4M88.0,24.70h3.7M660.5,24.70h-3.7" stroke="#111" stroke-width="0.9" fill="none"/>
<rect x="88.0" y="20.5" width="572.5" height="353.95" fill="none" stroke="#000" stroke-width="1.1"/>
<text x="101.60" y="391" text-anchor="middle" class="tk">0</text>
<text x="196.16" y="391" text-anchor="middle" class="tk">2</text>
<text x="290.72" y="391" text-anchor="middle" class="tk">4</text>
<text x="385.28" y="391" text-anchor="middle" class="tk">6</text>
<text x="479.84" y="391" text-anchor="middle" class="tk">8</text>
<text x="572.20" y="391" text-anchor="middle" class="tk">10</text>
<text x="84.2" y="372.15" text-anchor="end" class="tk">0.0</text>
<text x="84.2" y="317.31" text-anchor="end" class="tk">0.2</text>
<text x="84.2" y="262.47" text-anchor="end" class="tk">0.4</text>
<text x="84.2" y="207.63" text-anchor="end" class="tk">0.6</text>
<text x="84.2" y="152.79" text-anchor="end" class="tk">0.8</text>
<text x="84.2" y="97.95" text-anchor="end" class="tk">1.0</text>
<text x="84.2" y="43.11" text-anchor="end" class="tk">1.2</text>
<text class="m" font-size="20.0" stroke-width="0.2" transform="matrix(0.9100 0 0 0.9597 333.600 421.821)">q</text>
<text class="r" font-size="13" stroke-width="0.0" transform="matrix(0.9846 0 0 0.8476 343.100 414.700)">2</text>
<text class="r" font-size="20.0" stroke-width="0.2" transform="matrix(0.5113 0 0 1.1928 360.200 423.280)">[</text>
<text class="r" font-size="20.0" stroke-width="0.2" transform="matrix(0.8858 0 0 1.0260 363.800 421.895)">G</text>
<text class="r" font-size="20.0" stroke-width="0.2" transform="matrix(0.7528 0 0 0.9271 377.000 421.915)">e</text>
<text class="r" font-size="20.0" stroke-width="0.2" transform="matrix(0.9827 0 0 0.9776 383.700 421.507)">V</text>
<text class="r" font-size="13" stroke-width="0.0" transform="matrix(1.0769 0 0 0.8592 398.100 414.300)">2</text>
<text class="r" font-size="20.0" stroke-width="0.2" transform="matrix(0.5414 0 0 1.1928 409.900 423.280)">]</text>
<text class="m" font-size="18" stroke-width="0.06" transform="matrix(1.1202 0 0 1.0477 327.100 171.553)">B</text>
<path d="M346.20,167.10H362.20" stroke="#000" stroke-width="0.8" fill="none"/><path d="M358.20,162.80Q360.00,165.81 362.20,167.10Q360.00,168.39 358.20,171.40" stroke="#000" stroke-width="0.9500000000000001" fill="none" stroke-linecap="round" stroke-linejoin="round"/>
<text class="m" font-size="18" stroke-width="0.06" transform="matrix(1.0431 0 0 1.0477 369.835 171.553)">D</text>
<text class="m" font-size="18" stroke-width="0.06" transform="matrix(1.0671 0 0 0.9218 383.948 171.833)">μ</text>
<text class="m" font-size="18" stroke-width="0.06" transform="matrix(1.1111 0 0 0.8747 394.000 171.443)">ν</text>
<text class="m" font-size="13" stroke-width="0.0" transform="matrix(1.1881 0 0 0.8775 402.739 174.747)">μ</text>
<text class="m" font-size="18" stroke-width="0.06" transform="matrix(1.0747 0 0 1.0477 328.200 335.953)">B</text>
<path d="M346.90,331.50H362.90" stroke="#000" stroke-width="0.8" fill="none"/><path d="M358.90,327.20Q360.70,330.21 362.90,331.50Q360.70,332.79 358.90,335.80" stroke="#000" stroke-width="0.9500000000000001" fill="none" stroke-linecap="round" stroke-linejoin="round"/>
<text class="m" font-size="18" stroke-width="0.06" transform="matrix(1.0355 0 0 1.0477 370.633 335.953)">D</text>
<text class="m" font-size="18" stroke-width="0.06" transform="matrix(1.0969 0 0 0.8629 384.400 335.845)">τ</text>
<text class="m" font-size="18" stroke-width="0.06" transform="matrix(1.0612 0 0 0.8629 393.700 335.845)">ν</text>
<text class="m" font-size="13" stroke-width="0.0" transform="matrix(1.4398 0 0 1.0147 402.400 339.068)">τ</text>
<g transform="rotate(-90)"><text class="m" font-size="21.0" stroke-width="0.2" transform="matrix(0.9666 0 0 1.0469 -322.700 18.780)">d</text>
<text class="r" font-size="21.0" stroke-width="0.2" transform="matrix(0.8163 0 0 1.0178 -312.200 18.500)">Γ</text>
<text class="r" font-size="21.0" stroke-width="0.2" transform="matrix(0.7590 0 0 1.1387 -298.900 18.519)">(</text>
<text class="m" font-size="21.0" stroke-width="0.2" transform="matrix(1.0617 0 0 0.9995 -291.300 18.248)">B</text>
<path d="M-269.30,12.76H-251.20" stroke="#000" stroke-width="0.95" fill="none"/><path d="M-256.50,7.46Q-254.11,11.17 -251.20,12.76Q-254.11,14.35 -256.50,18.06" stroke="#000" stroke-width="1.0999999999999999" fill="none" stroke-linecap="round" stroke-linejoin="round"/>
<text class="m" font-size="21.0" stroke-width="0.2" transform="matrix(1.0042 0 0 1.0864 -243.136 18.943)">D</text>
<text class="m" font-size="21.0" stroke-width="0.2" transform="matrix(0.9011 0 0 1.0441 -227.100 19.081)">ℓ</text>
<text class="m" font-size="21.0" stroke-width="0.2" transform="matrix(0.9524 0 0 0.9524 -218.900 18.800)">ν</text>
<text class="m" font-size="14" stroke-width="0.0" transform="matrix(1.0607 0 0 1.1534 -208.800 21.739)">ℓ</text>
<text class="r" font-size="21.0" stroke-width="0.2" transform="matrix(0.7734 0 0 1.1072 -201.000 18.359)">)</text>
<path d="M-323.8,26.9H-193.4M-190.1,26.6H-144.9" stroke="#111" stroke-width="0.9" fill="none"/>
<text class="m" font-size="21.0" stroke-width="0.2" transform="matrix(0.9382 0 0 1.0469 -272.800 45.780)">d</text>
<text class="m" font-size="21.0" stroke-width="0.2" transform="matrix(0.8762 0 0 0.9349 -262.400 46.428)">q</text>
<text class="r" font-size="14" stroke-width="0.0" transform="matrix(0.9714 0 0 0.9596 -252.400 39.400)">2</text>
<text class="r" font-size="21.0" stroke-width="0.2" transform="matrix(0.7048 0 0 1.0823 -183.900 19.000)">1</text>
<text class="r" font-size="21.0" stroke-width="0.2" transform="matrix(0.9429 0 0 1.1287 -175.700 19.263)">0</text>
<text class="r" font-size="14" stroke-width="0.0" transform="matrix(0.6857 0 0 1.0714 -163.700 11.300)">1</text>
<text class="r" font-size="14" stroke-width="0.0" transform="matrix(1.0429 0 0 1.0674 -158.300 11.300)">2</text>
<path d="M-186.7,31.0V51.3M-156.5,31.0V51.3" stroke="#111" stroke-width="0.9" fill="none"/>
<text class="m" font-size="21.0" stroke-width="0.2" transform="matrix(0.9894 0 0 1.0874 -183.900 46.357)">V</text>
<text class="m" font-size="14" stroke-width="0.0" transform="matrix(0.7063 0 0 1.1458 -169.800 50.040)">c</text>
<text class="m" font-size="14" stroke-width="0.0" transform="matrix(0.7143 0 0 1.1955 -165.100 50.033)">b</text>
<text class="r" font-size="14" stroke-width="0.0" transform="matrix(1.0286 0 0 0.9596 -154.300 40.300)">2</text>
<text class="r" font-size="21.0" stroke-width="0.2" transform="matrix(0.8306 0 0 1.1596 -140.900 32.425)">(</text>
<text class="r" font-size="21.0" stroke-width="0.2" transform="matrix(0.9227 0 0 1.1046 -134.300 32.368)">G</text>
<text class="r" font-size="21.0" stroke-width="0.2" transform="matrix(0.8989 0 0 1.0417 -119.500 32.381)">e</text>
<text class="r" font-size="21.0" stroke-width="0.2" transform="matrix(0.9095 0 0 1.0235 -110.300 32.178)">V</text>
<path d="M-95.1,19.5H-85.9" stroke="#111" stroke-width="0.9" fill="none"/>
<text class="r" font-size="14" stroke-width="0.0" transform="matrix(0.7571 0 0 0.9957 -84.000 23.200)">1</text>
<text class="r" font-size="21.0" stroke-width="0.2" transform="matrix(0.7590 0 0 1.1282 -76.300 32.466)">)</text></g>
</svg>
</body></html>
